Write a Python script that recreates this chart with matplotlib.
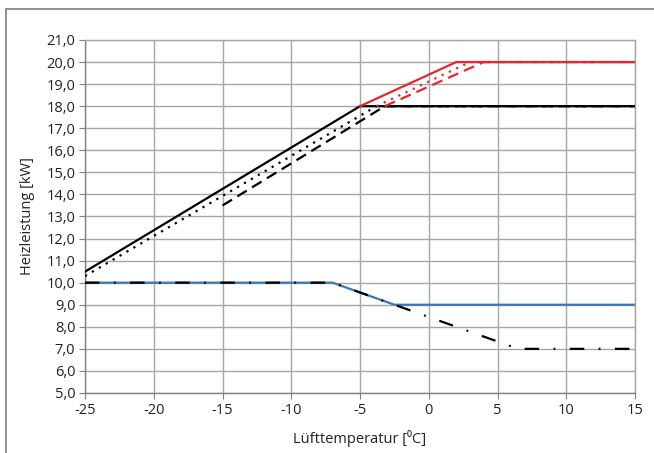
import matplotlib
matplotlib.use("Agg")
import matplotlib.pyplot as plt
from matplotlib.patches import Rectangle
from matplotlib.ticker import FuncFormatter

plt.rcParams['font.family'] = ['Open Sans', 'DejaVu Sans']
plt.rcParams['axes.unicode_minus'] = False

# data
blk_solid_x = [-25, -5, 15]
blk_solid_y = [10.5, 18.0, 18.0]
blk_dot_x = [-25, -3.8, 15]
blk_dot_y = [10.3, 18.0, 18.0]
blk_dash_x = [-15, -3.2, 15]
blk_dash_y = [13.5, 18.0, 18.0]

red_solid_x = [-5, 2, 15]
red_solid_y = [18.0, 20.0, 20.0]
red_dot_x = [-3.8, 3, 15]
red_dot_y = [18.0, 20.0, 20.0]
red_dash_x = [-3.2, 4, 15]
red_dash_y = [18.0, 20.0, 20.0]

blue_x = [-25, -7, -2.5, 15]
blue_y = [10.0, 10.0, 9.0, 9.0]
dashdot_x = [-25, -7, 6.5, 15]
dashdot_y = [10.0, 10.0, 7.0, 7.0]

xticks = list(range(-25, 16, 5))
yticks = list(range(5, 22))

fig = plt.figure(figsize=(6.54, 4.53), dpi=100)
ax = fig.add_axes([0.130, 0.1325, 0.841, 0.7792])

lw = 1.6
ax.plot(blue_x, blue_y, color='#3b78b4', lw=lw, zorder=3)
ax.plot(dashdot_x, dashdot_y, color='black', lw=lw, zorder=4,
        linestyle=(0, (6.5, 6.5, 0.8, 6.5)))

ax.plot(blk_solid_x, blk_solid_y, color='black', lw=lw, zorder=4)
ax.plot(blk_dot_x, blk_dot_y, color='black', lw=lw, zorder=4,
        linestyle=(0, (1, 2.6)))
ax.plot(blk_dash_x, blk_dash_y, color='black', lw=lw, zorder=4,
        linestyle=(0, (5, 2.8)))

red = '#e8262b'
ax.plot(red_solid_x, red_solid_y, color=red, lw=lw, zorder=5)
ax.plot(red_dot_x, red_dot_y, color=red, lw=lw, zorder=5,
        linestyle=(0, (1, 2.6)))
ax.plot(red_dash_x, red_dash_y, color=red, lw=lw, zorder=5,
        linestyle=(0, (5, 2.8)))

ax.set_xlim(-25, 15)
ax.set_ylim(5, 21)
ax.set_xticks(xticks)
ax.set_yticks(yticks)
ax.yaxis.set_major_formatter(FuncFormatter(lambda v, p: f"{v:.1f}".replace('.', ',')))
ax.grid(True, color='#a6a6a6', lw=1)
ax.set_axisbelow(True)
for s in ax.spines.values():
    s.set_color('#a6a6a6')
    s.set_linewidth(1)
ax.spines['left'].set_color('#808080')
ax.spines['bottom'].set_color('#808080')
ax.tick_params(axis='both', colors='#808080', length=4, labelsize=10.5,
               labelcolor='#222222', pad=3)

ax.set_xlabel('Lüfttemperatur [⁰C]', fontsize=10.5, color='#222222', labelpad=9)
ax.set_ylabel('Heizleistung [kW]', fontsize=10.5, color='#222222', labelpad=8)

# outer frame (cut at right and bottom)
fig.patches.append(Rectangle((6 / 654, -0.1), 1.2, 1.1 - 9 / 453,
                             transform=fig.transFigure, fill=False,
                             edgecolor='#7f7f7f', lw=1.2, zorder=0))

fig.savefig('out.png', dpi=100)
